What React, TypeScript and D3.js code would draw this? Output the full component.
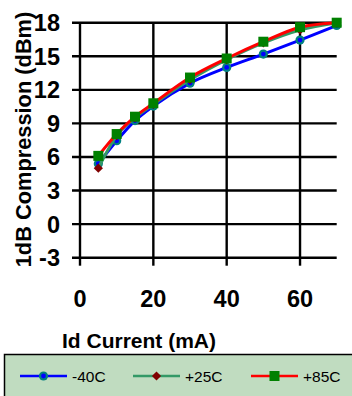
import * as d3 from 'd3';

const currents = [5, 10, 15, 20, 30, 40, 50, 60, 70];
const minus40 = [5.4, 7.45, 9.25, 10.55, 12.6, 14.0, 15.2, 16.45, 17.75];
const plus25 = [5.0, 7.9, 9.5, 10.7, 12.9, 14.7, 16.2, 17.35, 18.0];
const plus85 = [6.1, 8.05, 9.6, 10.8, 13.1, 14.8, 16.3, 17.6, 18.0];
const xTicks = [0, 20, 40, 60];
const yTicks = [-3, 0, 3, 6, 9, 12, 15, 18];
const seriesNames = ['-40C', '+25C', '+85C'];

const W = 352;
const H = 396;
const font = 'Liberation Sans, Arial, sans-serif';

function Marker({ kind, x, y }: { kind: number; x: number; y: number }) {
    if (kind === 0) {
        return (
            <g>
                <circle cx={x} cy={y} r={4.6} fill="#008080" />
                <circle cx={x} cy={y} r={2.4} fill="#0000ff" />
            </g>
        );
    }
    if (kind === 1) {
        const s = 4.6;
        return <path d={`M${x},${y - s}L${x + s},${y}L${x},${y + s}L${x - s},${y}Z`} fill="#800000" />;
    }
    return <rect x={x - 5} y={y - 5} width={10} height={10} fill="#008000" />;
}

export default function App() {
    const x = d3.scaleLinear().domain([0, 70]).range([80, 336.7]);
    const y = d3.scaleLinear().domain([-3, 18]).range([257.7, 22.7]);

    const line = d3.line<[number, number]>()
        .x(d => x(d[0]))
        .y(d => y(d[1]))
        .curve(d3.curveMonotoneX);

    const series = [minus40, plus25, plus85];
    const lineColors = ['#0000ff', '#339966', '#ff0000'];

    const legendX = [20, 133, 251];
    const legendY = 376;

    return (
        <svg width={W} height={H} style={{ position: 'absolute', left: 0, top: 0 }} fontFamily={font}>
            <rect x={0} y={0} width={W} height={H} fill="white" />
            {yTicks.map(t => (
                <line key={'h' + t} x1={72} x2={x(70)} y1={y(t)} y2={y(t)} stroke="black" strokeWidth={2.4} />
            ))}
            {xTicks.map(t => (
                <line key={'v' + t} x1={x(t)} x2={x(t)} y1={y(18)} y2={y(-3) + 8} stroke="black" strokeWidth={2.4} />
            ))}
            {yTicks.map(t => (
                <text key={'yl' + t} x={60} y={y(t) + 8.5} textAnchor="end" fontSize={23.5} fontWeight="bold">{t}</text>
            ))}
            {xTicks.map(t => (
                <text key={'xl' + t} x={x(t)} y={306.5} textAnchor="middle" fontSize={23.5} fontWeight="bold">{t}</text>
            ))}
            <text transform="translate(31,139.5) rotate(-90)" textAnchor="middle" fontSize={21.8} fontWeight="bold">1dB Compression (dBm)</text>
            <text x={139} y={348} textAnchor="middle" fontSize={21} fontWeight="bold">Id Current (mA)</text>

            {series.map((vals, i) => {
                const pts = currents.map((c, j) => [c, vals[j]] as [number, number]);
                return (
                    <g key={'s' + i}>
                        <path d={line(pts) || ''} fill="none" stroke={lineColors[i]} strokeWidth={3} />
                        {pts.map((p, j) => (
                            <Marker key={j} kind={i} x={x(p[0])} y={y(p[1])} />
                        ))}
                    </g>
                );
            })}

            <rect x={4.5} y={354.5} width={360} height={60} fill="#c0dcc0" stroke="black" strokeWidth={1.5} />
            {seriesNames.map((name, i) => (
                <g key={'lg' + i}>
                    <line x1={legendX[i]} x2={legendX[i] + 47} y1={legendY} y2={legendY} stroke={lineColors[i]} strokeWidth={2.5} />
                    <Marker kind={i} x={legendX[i] + 23.5} y={legendY} />
                    <text x={legendX[i] + 52} y={legendY + 5.5} fontSize={15.5}>{name}</text>
                </g>
            ))}
        </svg>
    );
}
